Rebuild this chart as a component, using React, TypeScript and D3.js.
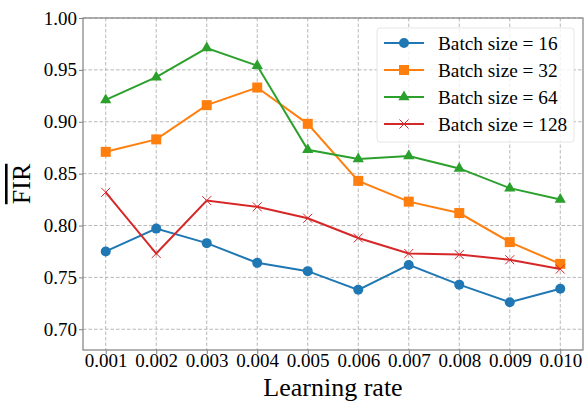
import * as d3 from 'd3';
import React, { useRef, useEffect } from 'react';

const rates = [0.001, 0.002, 0.003, 0.004, 0.005, 0.006, 0.007, 0.008, 0.009, 0.010];
const bs16 = [0.775, 0.797, 0.783, 0.764, 0.756, 0.738, 0.762, 0.743, 0.726, 0.739];
const bs32 = [0.871, 0.883, 0.916, 0.933, 0.898, 0.843, 0.823, 0.812, 0.784, 0.763];
const bs64 = [0.921, 0.943, 0.971, 0.954, 0.873, 0.864, 0.867, 0.855, 0.836, 0.825];
const bs128 = [0.832, 0.773, 0.824, 0.818, 0.807, 0.788, 0.773, 0.772, 0.767, 0.758];
const yTicks = [0.70, 0.75, 0.80, 0.85, 0.90, 0.95, 1.00];
const seriesNames = ['Batch size = 16', 'Batch size = 32', 'Batch size = 64', 'Batch size = 128'];

const App = () => {
    const svgRef = useRef(null);
    const width = 585;
    const height = 402;

    useEffect(() => {
        draw();
    }, []);

    const draw = () => {
        const svg = d3.select(svgRef.current);
        svg.selectAll('*').remove();

        const margin = { top: 18, right: 2, bottom: 52, left: 83 };
        const x0 = margin.left, x1 = width - margin.right;
        const y0 = margin.top, y1 = height - margin.bottom;
        const font = '"Liberation Serif", "Times New Roman", serif';

        const xScale = d3.scaleLinear().domain([0.00055, 0.01045]).range([x0, x1]);
        const yScale = d3.scaleLinear().domain([0.68, 1.0]).range([y1, y0]);

        // grid
        const grid = svg.append('g').attr('stroke', '#b0b0b0').attr('stroke-dasharray', '3.5,2').attr('stroke-width', 0.9);
        grid.selectAll('.vx').data(rates).enter().append('line')
            .attr('x1', (d) => xScale(d)).attr('x2', (d) => xScale(d))
            .attr('y1', y0).attr('y2', y1);
        grid.selectAll('.hy').data(yTicks).enter().append('line')
            .attr('y1', (d) => yScale(d)).attr('y2', (d) => yScale(d))
            .attr('x1', x0).attr('x2', x1);

        const xAxis = d3.axisBottom(xScale).tickValues(rates).tickFormat(d3.format('.3f')).tickSize(4).tickPadding(0);
        const yAxis = d3.axisLeft(yScale).tickValues(yTicks).tickFormat(d3.format('.2f')).tickSize(4).tickPadding(2);

        const gx = svg.append('g').attr('transform', `translate(0, ${y1})`).call(xAxis);
        const gy = svg.append('g').attr('transform', `translate(${x0}, 0)`).call(yAxis);
        [gx, gy].forEach((g) => {
            g.select('.domain').remove();
            g.selectAll('line').attr('stroke', '#808080');
            g.selectAll('text').attr('fill', '#000').style('font-family', font).style('font-size', '19px');
        });

        // frame
        svg.append('rect').attr('x', x0).attr('y', y0).attr('width', x1 - x0).attr('height', y1 - y0)
            .attr('fill', 'none').attr('stroke', '#808080').attr('stroke-width', 1.2);

        const colors = ['#1f77b4', '#ff7f0e', '#2ca02c', '#d62728'];
        const allSeries = [bs16, bs32, bs64, bs128];
        const line = d3.line().x((d) => xScale(d[0])).y((d) => yScale(d[1]));

        const drawMarker = (g, i, cx, cy, c) => {
            if (i === 0) {
                g.append('circle').attr('cx', cx).attr('cy', cy).attr('r', 5).attr('fill', c);
            } else if (i === 1) {
                g.append('rect').attr('x', cx - 5).attr('y', cy - 5).attr('width', 10).attr('height', 10).attr('fill', c);
            } else if (i === 2) {
                const p = d3.symbol().type(d3.symbolTriangle).size(55)();
                g.append('path').attr('d', p).attr('transform', `translate(${cx},${cy})`).attr('fill', c);
            } else {
                const s = 4.5;
                g.append('path').attr('d', `M${cx - s},${cy - s}L${cx + s},${cy + s}M${cx - s},${cy + s}L${cx + s},${cy - s}`)
                    .attr('stroke', c).attr('stroke-width', 1).attr('fill', 'none');
            }
        };

        allSeries.forEach((vals, i) => {
            const pts = rates.map((r, j) => [r, vals[j]]);
            const g = svg.append('g');
            g.append('path').datum(pts).attr('d', line).attr('fill', 'none')
                .attr('stroke', colors[i]).attr('stroke-width', 2);
            pts.forEach((p) => drawMarker(g, i, xScale(p[0]), yScale(p[1]), colors[i]));
        });

        // legend
        const lg = svg.append('g');
        lg.append('rect').attr('x', 377).attr('y', 28).attr('width', 197).attr('height', 114).attr('rx', 3)
            .attr('fill', 'rgba(255,255,255,0.8)').attr('stroke', '#e6e6e6');
        seriesNames.forEach((name, i) => {
            const cy = 43 + i * 27;
            lg.append('line').attr('x1', 384).attr('x2', 424).attr('y1', cy).attr('y2', cy)
                .attr('stroke', colors[i]).attr('stroke-width', 2);
            drawMarker(lg, i, 404, cy, colors[i]);
            lg.append('text').attr('x', 438).attr('y', cy + 7).text(name)
                .style('font-family', font).style('font-size', '19.3px').attr('fill', '#000');
        });

        svg.append('text').attr('x', (x0 + x1) / 2).attr('y', 396).attr('text-anchor', 'middle')
            .style('font-family', font).style('font-size', '26px').text('Learning rate');

        svg.append('text').attr('transform', `translate(30, ${(y0 + y1) / 2}) rotate(-90)`)
            .attr('text-anchor', 'middle')
            .style('font-family', font).style('font-size', '26px').style('text-decoration', 'overline').text('FIR');
    };

    return (
        <svg ref={svgRef} width={width} height={height} style={{ position: 'absolute', left: 0, top: 0 }}>
        </svg>
    );
};

export default App;
